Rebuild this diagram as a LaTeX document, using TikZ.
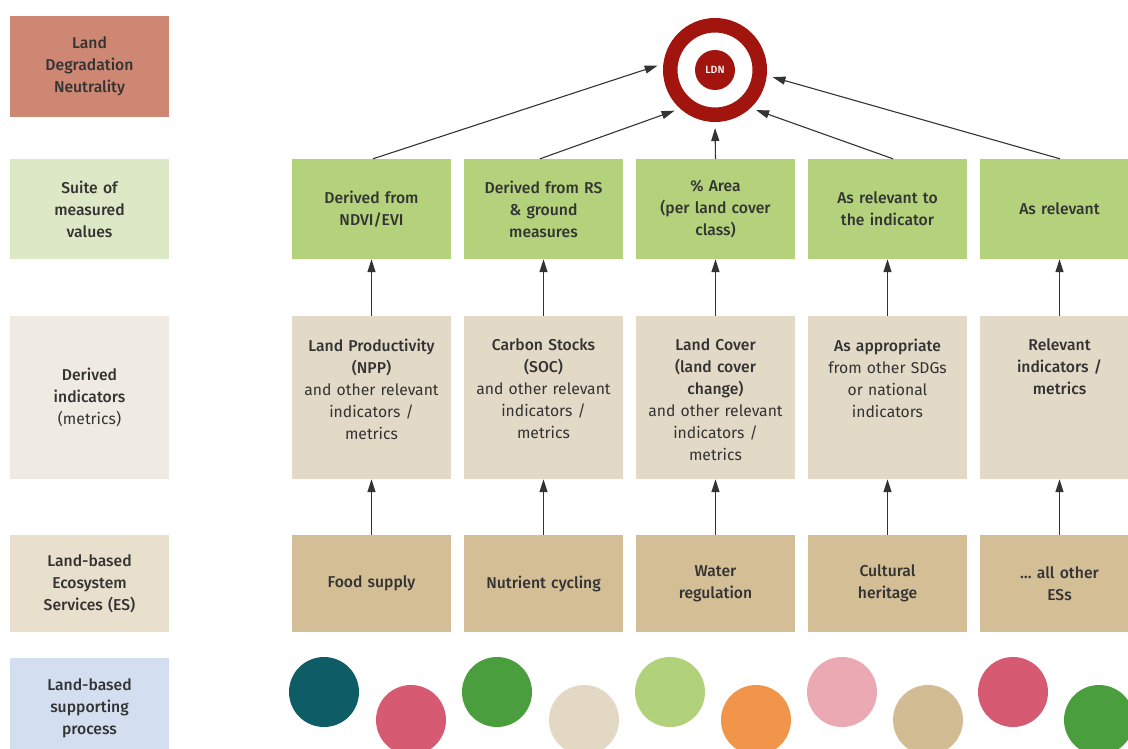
\documentclass[tikz,border=0pt]{standalone}
\usepackage{fontspec}
\IfFontExistsTF{Fira Sans Medium}
  {\setmainfont{Fira Sans}[BoldFont={Fira Sans Medium}]}
  {\setmainfont{Fira Sans}}
\usepackage{xcolor}
\usepackage{tikz}
\usetikzlibrary{arrows.meta}

\definecolor{inkgray}{HTML}{333333}
\definecolor{ldnsalmon}{HTML}{CD8772}
\definecolor{suitepale}{HTML}{DDE8C6}
\definecolor{valgreen}{HTML}{B3D27B}
\definecolor{metricpale}{HTML}{EFEBE2}
\definecolor{metricbeige}{HTML}{E3D9C7}
\definecolor{espale}{HTML}{E8DFCC}
\definecolor{estan}{HTML}{D3BE96}
\definecolor{procblue}{HTML}{D3DFF1}
\definecolor{ldnred}{HTML}{A2150F}
% colours of the supporting process dots
\definecolor{dotteal}{HTML}{0E5C66}
\definecolor{dotrose}{HTML}{D65A72}
\definecolor{dotgreen}{HTML}{4A9E3E}
\definecolor{dotcream}{HTML}{E3D8C4}
\definecolor{dotlime}{HTML}{B1D27A}
\definecolor{dotorange}{HTML}{F0954A}
\definecolor{dotpink}{HTML}{EBAAB3}
\definecolor{dottan}{HTML}{D2BC93}

% text of a metrics box starts near its top
\newcommand\toptext[1]{\parbox[c][163pt][t]{152pt}{\centering\vspace*{23pt}#1}}
\newcommand\stagefont{\fontsize{15.7}{22}\selectfont}

\begin{document}
\begin{tikzpicture}[x=1pt,y=-1pt,
    every node/.style={inner sep=0pt, text=inkgray},
    stage/.style={minimum width=159pt, text width=152pt, align=center, font=\stagefont},
    boldstage/.style={stage, font=\stagefont\bfseries},
    upline/.style={draw=inkgray, line width=1.1pt, -{Triangle[length=13pt,width=8pt]}},
    toldn/.style={upline, shorten >=6pt}]
    \useasboundingbox (0,0) rectangle (1128,749);
    \clip (0,0) rectangle (1128,749);

    % Row labels on the left
    \node [boldstage, fill=ldnsalmon, minimum height=101pt]
        (lab1) at (89.5,66.5) {Land\\Degradation\\Neutrality};
    \node [boldstage, fill=suitepale, minimum height=100pt]
        (lab2) at (89.5,209) {Suite of\\measured\\values};
    \node [stage, fill=metricpale, minimum height=163pt]
        (lab3) at (89.5,397.5) {{\bfseries Derived\\indicators\\}(metrics)};
    \node [boldstage, fill=espale, minimum height=97pt]
        (lab4) at (89.5,583.5) {Land-based\\Ecosystem\\Services (ES)};
    \node [boldstage, fill=procblue, minimum height=100pt]
        (lab5) at (89.5,708) {Land-based\\supporting\\process};

    % The LDN target
    \node [circle, draw=ldnred, line width=14.5pt, minimum size=89.5pt] (ldn) at (715,70) {};
    \node [circle, fill=ldnred, minimum size=40pt, text=white,
           font=\fontsize{10.5}{12}\selectfont\bfseries] (ldncore) at (ldn.center) {LDN};

    % Suite of measured values
    \begin{scope}[every node/.append style={boldstage, fill=valgreen, minimum height=100pt}]
        \node (v1) at (371.5,209) {Derived from\\NDVI/EVI};
        \node (v2) at (543.5,209) {Derived from RS\\\& ground\\measures};
        \node (v3) at (715.5,209) {\% Area\\(per land cover\\class)};
        \node (v4) at (887.5,209) {As relevant to\\the indicator};
        \node (v5) at (1059.5,209) {As relevant};
    \end{scope}

    % Derived indicators
    \begin{scope}[every node/.append style={stage, fill=metricbeige, minimum height=163pt}]
        \node (m1) at (371.5,397.5) {\toptext{{\bfseries Land Productivity\\(NPP)\\}and other relevant\\indicators /\\metrics}};
        \node (m2) at (543.5,397.5) {\toptext{{\bfseries Carbon Stocks\\(SOC)\\}and other relevant\\indicators /\\metrics}};
        \node (m3) at (715.5,397.5) {\toptext{{\bfseries Land Cover\\(land cover\\change)\\}and other relevant\\indicators /\\metrics}};
        \node (m4) at (887.5,397.5) {\toptext{{\bfseries As appropriate\\}from other SDGs\\or national\\indicators}};
        \node (m5) at (1059.5,397.5) {\toptext{\bfseries Relevant\\indicators /\\metrics}};
    \end{scope}

    % Ecosystem services
    \begin{scope}[every node/.append style={boldstage, fill=estan, minimum height=97pt}]
        \node (e1) at (371.5,583.5) {Food supply};
        \node (e2) at (543.5,583.5) {Nutrient cycling};
        \node (e3) at (715.5,583.5) {Water\\regulation};
        \node (e4) at (887.5,583.5) {Cultural\\heritage};
        \node (e5) at (1059.5,583.5) {… all other\\ESs};
    \end{scope}

    % Arrows up the columns
    \foreach \n in {1,...,5}{%
        \draw [upline] (e\n.north) -- (m\n.south);
        \draw [upline] (m\n.north) -- (v\n.south);
    }
    \draw [toldn] ([xshift=1.5pt]v1.north) -- (ldn.173);
    \draw [toldn] ([xshift=-3.5pt]v2.north) -- (ldn.228);
    \draw [toldn] (v3.north) -- (ldn.south);
    \draw [toldn] ([xshift=5.5pt]v4.north) -- (ldn.313);
    \draw [toldn] ([xshift=0.5pt]v5.north) -- (ldn.354);

    % Supporting process dots
    \foreach \cx/\cy/\cc in {324/692/dotteal, 411/720/dotrose, 497/692/dotgreen,
                             584/720/dotcream, 670/692/dotlime, 756/720/dotorange,
                             842/692/dotpink, 928/720/dottan, 1013/692/dotrose,
                             1099/720/dotgreen}{%
        \fill [\cc] (\cx,\cy) circle (35pt);
    }
\end{tikzpicture}
\end{document}
